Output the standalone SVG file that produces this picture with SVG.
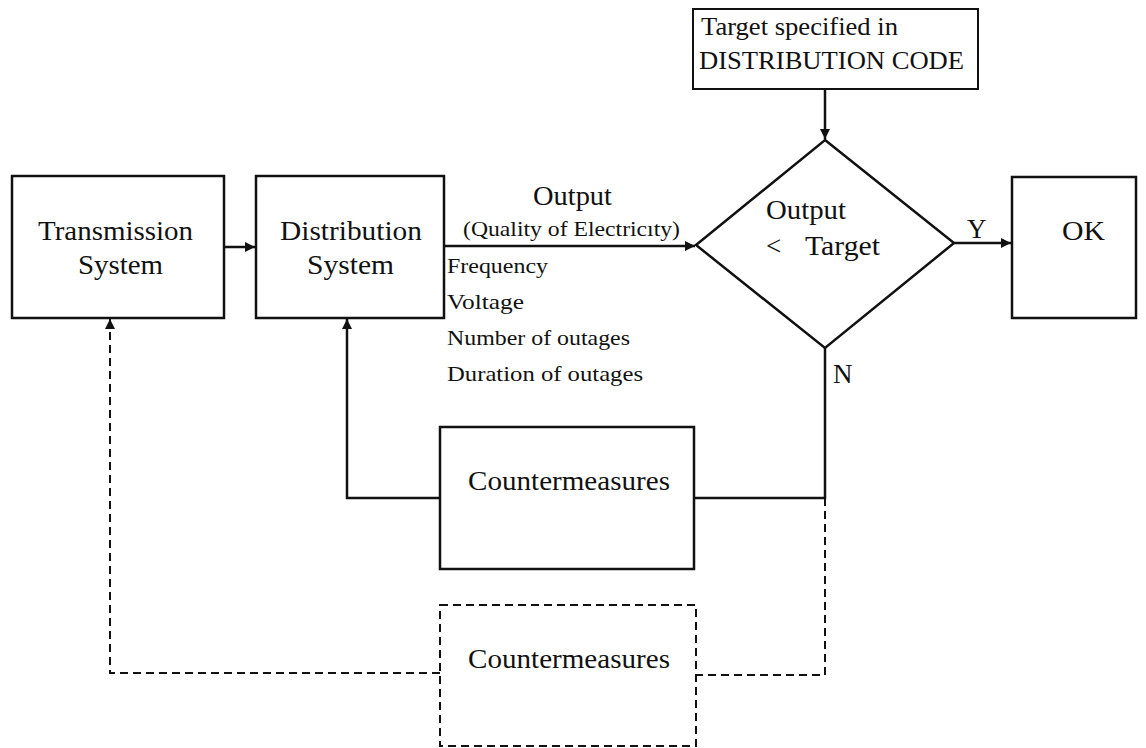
<svg xmlns="http://www.w3.org/2000/svg" width="1146" height="748" viewBox="0 0 1146 748" font-family="'Liberation Serif', 'DejaVu Serif', serif">
<style>
text{font-family:'Liberation Serif','DejaVu Serif',serif;fill:#111}
.box{fill:#fff;stroke:#111;stroke-width:2.5}
.dbox{fill:#fff;stroke:#111;stroke-width:2;stroke-dasharray:8,5}
.ln{fill:none;stroke:#111;stroke-width:2.5}
.dl{fill:none;stroke:#111;stroke-width:2;stroke-dasharray:8,5}
.big{font-size:27px}
.sm{font-size:22px}
.tg{font-size:25px}
</style>
<defs>
<marker id="ah" viewBox="0 0 10 10" refX="10" refY="5" markerWidth="10" markerHeight="10" markerUnits="userSpaceOnUse" orient="auto">
<path d="M0,0 L10,5 L0,10 z" fill="#111"/>
</marker>
</defs>
<g id="connectors">
<line class="ln" x1="224" y1="247" x2="255" y2="247" marker-end="url(#ah)"/>
<line class="ln" x1="444" y1="246" x2="695" y2="246" marker-end="url(#ah)"/>
<line class="ln" x1="825" y1="89" x2="825" y2="139" marker-end="url(#ah)"/>
<line class="ln" x1="954" y1="243" x2="1011" y2="243" marker-end="url(#ah)"/>
<polyline class="ln" points="825,348 825,498 694,498"/>
<polyline class="ln" points="440,498 347,498 347,319" marker-end="url(#ah)"/>
<polyline class="dl" points="825,498 825,675 696,675"/>
<polyline class="dl" points="440,673 110,673 110,319" marker-end="url(#ah)"/>
<text class="big" x="967" y="238">Y</text>
<text class="big" x="833" y="383">N</text>
</g>
<g id="transmission">
<rect class="box" x="12" y="176" width="212" height="142"/>
<text class="big" x="38" y="240" textLength="155" lengthAdjust="spacingAndGlyphs">Transmission</text>
<text class="big" x="78" y="274" textLength="85" lengthAdjust="spacingAndGlyphs">System</text>
</g>
<g id="distribution">
<rect class="box" x="256" y="176" width="188" height="142"/>
<text class="big" x="280" y="240" textLength="142" lengthAdjust="spacingAndGlyphs">Distribution</text>
<text class="big" x="307" y="274" textLength="87" lengthAdjust="spacingAndGlyphs">System</text>
</g>
<g id="output-label">
<text class="big" x="533" y="205" textLength="79" lengthAdjust="spacingAndGlyphs">Output</text>
<text class="sm" x="463" y="236" textLength="217" lengthAdjust="spacingAndGlyphs">(Quality of Electricıty)</text>
<text class="sm" x="447" y="273" textLength="101" lengthAdjust="spacingAndGlyphs">Frequency</text>
<text class="sm" x="447" y="309" textLength="77" lengthAdjust="spacingAndGlyphs">Voltage</text>
<text class="sm" x="447" y="345" textLength="183" lengthAdjust="spacingAndGlyphs">Number of outages</text>
<text class="sm" x="447" y="381" textLength="196" lengthAdjust="spacingAndGlyphs">Duration of outages</text>
</g>
<g id="target">
<rect class="box" x="693" y="9" width="285" height="80" style="stroke-width:2"/>
<text class="tg" x="701" y="35" textLength="197" lengthAdjust="spacingAndGlyphs">Target specified in</text>
<text class="tg" x="699" y="69" textLength="265" lengthAdjust="spacingAndGlyphs">DISTRIBUTION CODE</text>
</g>
<g id="decision">
<polygon class="box" points="825,140 954,243 825,348 696,245"/>
<text class="big" x="766" y="219" textLength="80" lengthAdjust="spacingAndGlyphs">Output</text>
<text class="big" x="766" y="255">&lt;</text>
<text class="big" x="805" y="255" textLength="75" lengthAdjust="spacingAndGlyphs">Target</text>
</g>
<g id="ok">
<rect class="box" x="1012" y="177" width="124" height="141"/>
<text class="big" x="1062" y="240" textLength="43" lengthAdjust="spacingAndGlyphs">OK</text>
</g>
<g id="countermeasures">
<rect class="box" x="440" y="427" width="254" height="142"/>
<text class="big" x="468" y="490" textLength="202" lengthAdjust="spacingAndGlyphs">Countermeasures</text>
</g>
<g id="countermeasures-dashed">
<rect class="dbox" x="440" y="605" width="256" height="141"/>
<text class="big" x="468" y="668" textLength="202" lengthAdjust="spacingAndGlyphs">Countermeasures</text>
</g>
</svg>
